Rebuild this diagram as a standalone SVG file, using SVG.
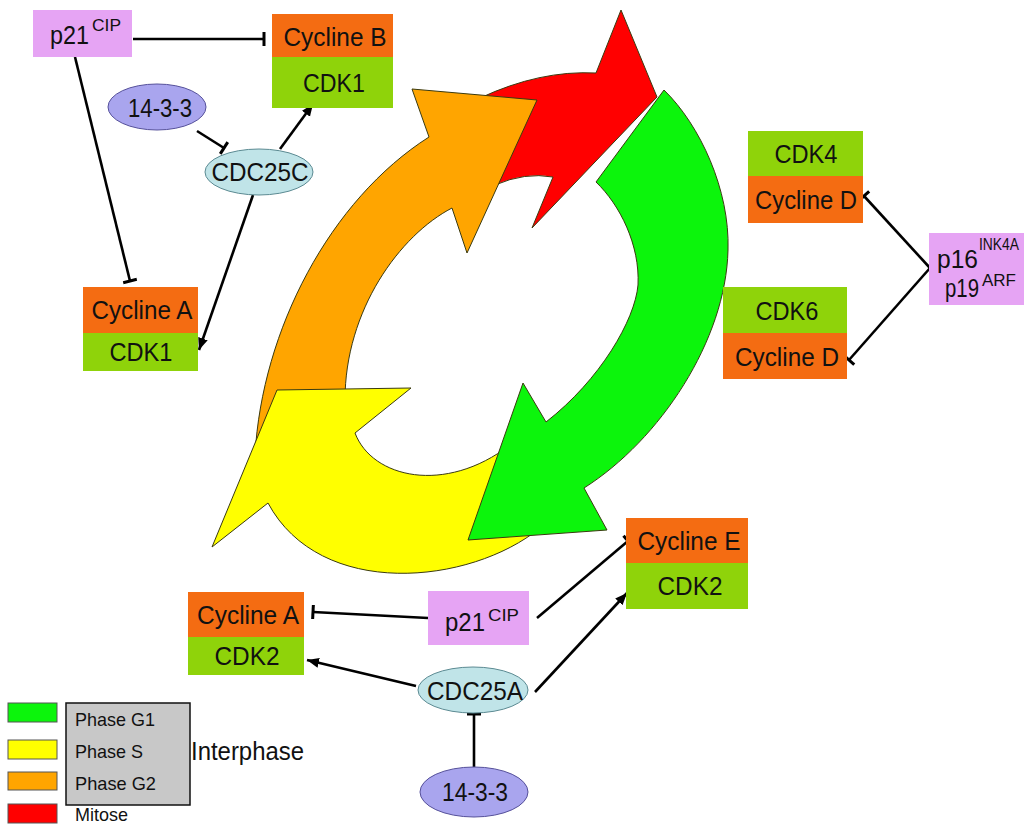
<svg xmlns="http://www.w3.org/2000/svg" width="1024" height="827" viewBox="0 0 1024 827">
<style>
  text { font-family: "Liberation Sans", Arial, sans-serif; fill: #111; }
  .lbl { font-size: 26px; text-anchor: middle; }
  .big { font-size: 26px; }
  .sup { font-size: 17px; }
  .cyc { fill: #f46c12; }
  .cdk { fill: #8fd30a; }
  .inh { fill: #e6a4f4; }
  .e1433 { fill: #a9a5ee; stroke: #55509a; stroke-width: 1; }
  .cdc { fill: #c0e4e8; stroke: #5b8a92; stroke-width: 1; }
  .conn line { stroke: #000; stroke-width: 2.6; fill: none; }
  .act { marker-end: url(#arr); }
  .blk { marker-end: url(#bar); }
  .ph { stroke: #3a3a10; stroke-width: 1; stroke-linejoin: miter; }
  .leg { font-size: 19px; }
  .legbox { stroke: #555; stroke-width: 1; }
</style>
<defs>
  <marker id="arr" markerUnits="userSpaceOnUse" markerWidth="14" markerHeight="12" refX="12" refY="6" orient="auto">
    <path d="M0,1 L12,6 L0,11 Z" fill="#000"/>
  </marker>
  <marker id="bar" markerUnits="userSpaceOnUse" markerWidth="4" markerHeight="16" refX="2" refY="8" orient="auto">
    <path d="M2,1 V15" stroke="#000" stroke-width="3"/>
  </marker>
</defs>
<rect width="1024" height="827" fill="#fff"/>

<!-- cell-cycle phase arrows -->
<g id="phases">
  <path id="mitose" class="ph" fill="#ff0000" d="M480 98 Q540 70 596 73 L621 10 L657 97 L532 228 L553 177 Q525 172 495 185 Z"/>
  <path id="g2" class="ph" fill="#ffa500" d="M255 455 C262 330 330 200 429 137 L412 89 L537 100 L467 253 L452 208 C400 235 345 310 345 400 Z"/>
  <path id="s" class="ph" fill="#ffff00" d="M277 390 L411 388 L355 433 C372 478 445 495 510 445 L540 528 C470 585 320 600 268 503 L212 547 Z"/>
  <path id="g1" class="ph" fill="#0cf50c" d="M664 90 C700 125 730 190 728 250 C726 340 660 440 584 488 L607 530 L468 540 L523 383 L546 422 C600 380 635 320 638 285 C640 245 620 205 596 182 Z"/>
</g>

<!-- connectors -->
<g id="connectors" class="conn">
  <line class="blk" x1="133" y1="39" x2="264" y2="39"/>
  <line class="blk" x1="75" y1="57" x2="130" y2="281"/>
  <line class="blk" x1="197" y1="131" x2="224" y2="148"/>
  <line class="act" x1="280" y1="149" x2="313" y2="104"/>
  <line class="act" x1="253" y1="195" x2="199" y2="350"/>
  <line class="blk" x1="930" y1="268" x2="864" y2="196"/>
  <line class="blk" x1="930" y1="268" x2="849" y2="360"/>
  <line class="blk" x1="428" y1="618" x2="313" y2="612"/>
  <line class="blk" x1="537" y1="618" x2="628" y2="541"/>
  <line class="act" x1="416" y1="686" x2="307" y2="660"/>
  <line class="act" x1="535" y1="692" x2="627" y2="593"/>
  <line class="blk" x1="474" y1="767" x2="474" y2="714"/>
</g>

<!-- nodes -->
<g id="p21-top">
  <rect class="inh" x="33" y="10" width="99" height="47"/>
  <text class="big" x="50" y="44" textLength="39" lengthAdjust="spacingAndGlyphs">p21</text>
  <text class="sup" x="92" y="31" textLength="29" lengthAdjust="spacingAndGlyphs">CIP</text>
</g>
<g id="cyclineB-cdk1">
  <rect class="cyc" x="272" y="14" width="121" height="43"/>
  <rect class="cdk" x="272" y="57" width="121" height="51"/>
  <text class="lbl" x="335" y="46" textLength="103" lengthAdjust="spacingAndGlyphs">Cycline B</text>
  <text class="lbl" x="334" y="92" textLength="62" lengthAdjust="spacingAndGlyphs">CDK1</text>
</g>
<g id="e1433-top">
  <ellipse class="e1433" cx="157" cy="107" rx="49" ry="23"/>
  <text class="lbl" x="160" y="117" textLength="64" lengthAdjust="spacingAndGlyphs">14-3-3</text>
</g>
<g id="cdc25c">
  <ellipse class="cdc" cx="259" cy="172" rx="54" ry="23"/>
  <text class="lbl" x="260" y="181" textLength="97" lengthAdjust="spacingAndGlyphs">CDC25C</text>
</g>
<g id="cyclineA-cdk1">
  <rect class="cyc" x="83" y="287" width="115" height="46"/>
  <rect class="cdk" x="83" y="333" width="115" height="38"/>
  <text class="lbl" x="142" y="319" textLength="101" lengthAdjust="spacingAndGlyphs">Cycline A</text>
  <text class="lbl" x="141" y="361" textLength="63" lengthAdjust="spacingAndGlyphs">CDK1</text>
</g>
<g id="cdk4-cyclineD">
  <rect class="cdk" x="748" y="131" width="115" height="45"/>
  <rect class="cyc" x="748" y="176" width="115" height="47"/>
  <text class="lbl" x="806" y="163" textLength="63" lengthAdjust="spacingAndGlyphs">CDK4</text>
  <text class="lbl" x="806" y="209" textLength="102" lengthAdjust="spacingAndGlyphs">Cycline D</text>
</g>
<g id="cdk6-cyclineD">
  <rect class="cdk" x="723" y="287" width="124" height="46"/>
  <rect class="cyc" x="723" y="333" width="124" height="46"/>
  <text class="lbl" x="787" y="320" textLength="63" lengthAdjust="spacingAndGlyphs">CDK6</text>
  <text class="lbl" x="787" y="366" textLength="104" lengthAdjust="spacingAndGlyphs">Cycline D</text>
</g>
<g id="p16-p19">
  <rect class="inh" x="929" y="233" width="95" height="72"/>
  <text class="big" x="937" y="268" textLength="41" lengthAdjust="spacingAndGlyphs">p16</text>
  <text x="979" y="250" font-size="17" textLength="40" lengthAdjust="spacingAndGlyphs">INK4A</text>
  <text class="big" x="945" y="297" textLength="34" lengthAdjust="spacingAndGlyphs">p19</text>
  <text class="sup" x="982" y="286" textLength="34" lengthAdjust="spacingAndGlyphs">ARF</text>
</g>
<g id="cyclineE-cdk2">
  <rect class="cyc" x="626" y="518" width="122" height="45"/>
  <rect class="cdk" x="626" y="563" width="122" height="46"/>
  <text class="lbl" x="689" y="550" textLength="103" lengthAdjust="spacingAndGlyphs">Cycline E</text>
  <text class="lbl" x="690" y="595" textLength="65" lengthAdjust="spacingAndGlyphs">CDK2</text>
</g>
<g id="cyclineA-cdk2">
  <rect class="cyc" x="188" y="592" width="116" height="45"/>
  <rect class="cdk" x="188" y="637" width="116" height="38"/>
  <text class="lbl" x="248" y="624" textLength="102" lengthAdjust="spacingAndGlyphs">Cycline A</text>
  <text class="lbl" x="247" y="665" textLength="65" lengthAdjust="spacingAndGlyphs">CDK2</text>
</g>
<g id="p21-bottom">
  <rect class="inh" x="428" y="591" width="101" height="54"/>
  <text class="big" x="445" y="631" textLength="40" lengthAdjust="spacingAndGlyphs">p21</text>
  <text class="sup" x="488" y="621" textLength="31" lengthAdjust="spacingAndGlyphs">CIP</text>
</g>
<g id="cdc25a">
  <ellipse class="cdc" cx="473" cy="690" rx="55" ry="23"/>
  <text class="lbl" x="475" y="700" textLength="96" lengthAdjust="spacingAndGlyphs">CDC25A</text>
</g>
<g id="e1433-bottom">
  <ellipse class="e1433" cx="474" cy="792" rx="54" ry="25"/>
  <text class="lbl" x="475" y="801" textLength="66" lengthAdjust="spacingAndGlyphs">14-3-3</text>
</g>

<!-- legend -->
<g id="legend">
  <rect class="legbox" x="8" y="703" width="49" height="19" fill="#0cf50c"/>
  <rect class="legbox" x="8" y="740" width="49" height="19" fill="#ffff00"/>
  <rect class="legbox" x="8" y="772" width="49" height="18" fill="#ffa500"/>
  <rect class="legbox" x="8" y="804" width="49" height="19" fill="#ff0000"/>
  <rect x="66" y="703" width="124" height="102" fill="#c8c8c8" stroke="#111" stroke-width="1.5"/>
  <text class="leg" x="75" y="726" textLength="80" lengthAdjust="spacingAndGlyphs">Phase G1</text>
  <text class="leg" x="75" y="758" textLength="68" lengthAdjust="spacingAndGlyphs">Phase S</text>
  <text class="leg" x="75" y="790" textLength="81" lengthAdjust="spacingAndGlyphs">Phase G2</text>
  <text class="leg" x="75" y="821" textLength="53" lengthAdjust="spacingAndGlyphs">Mitose</text>
  <text class="big" x="191" y="760" textLength="113" lengthAdjust="spacingAndGlyphs">Interphase</text>
</g>
</svg>
